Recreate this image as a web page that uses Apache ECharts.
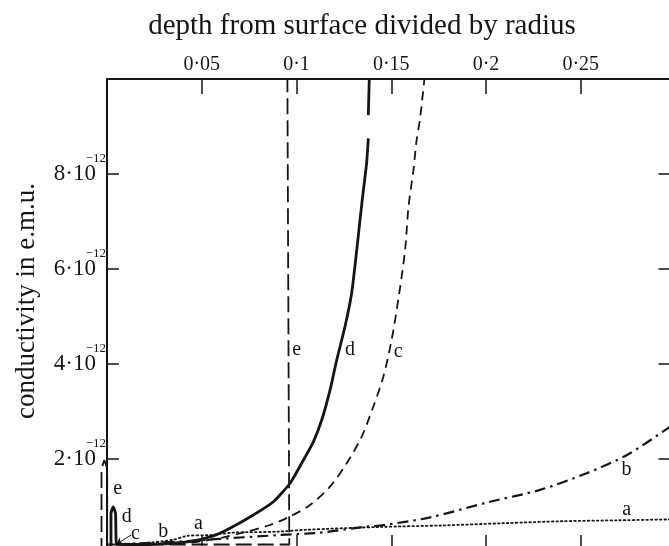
<!DOCTYPE html>
<html>
<head>
<meta charset="utf-8">
<script src="https://cdn.jsdelivr.net/npm/echarts@6/dist/echarts.min.js"></script>
<style>
html,body{margin:0;padding:0;background:#fff;}
#chart{width:669px;height:546px;}
</style>
</head>
<body>
<div id="chart"></div>
<script>
// depth from surface divided by radius (x), conductivity in units of 1e-12 e.m.u. (y)
const xTickValues = [0.05, 0.1, 0.15, 0.2, 0.25, 0.3];
const xTickLabels = ['0·05', '0·1', '0·15', '0·2', '0·25', ''];
const yTickLabels = ['', '2·10', '4·10', '6·10', '8·10', ''];
const yTickSup = ['', '−12', '−12', '−12', '−12', ''];

const curveA = [[0.005,0.2],[0.02,0.23],[0.035,0.3],[0.042,0.38],[0.055,0.40],[0.0665,0.45],[0.09,0.47],[0.105,0.51],[0.144,0.57],[0.176,0.6],[0.21,0.65],[0.24,0.69],[0.27,0.71],[0.3,0.73]];
const curveB = [[0.005,0.2],[0.02,0.23],[0.0375,0.26],[0.06,0.32],[0.0913,0.40],[0.1124,0.45],[0.1353,0.57],[0.1441,0.60],[0.1704,0.77],[0.2021,1.10],[0.2285,1.35],[0.2531,1.70],[0.2742,2.08],[0.2953,2.63],[0.3,2.78]];
const curveC = [[0.005,0.2],[0.02,0.2],[0.04,0.22],[0.05,0.27],[0.0614,0.35],[0.0737,0.47],[0.086,0.61],[0.0966,0.79],[0.1071,1.03],[0.1177,1.42],[0.1265,1.91],[0.1344,2.47],[0.1405,3.10],[0.1458,3.73],[0.1502,4.51],[0.1537,5.35],[0.1573,6.40],[0.1591,7.31],[0.1617,8.08],[0.1634,8.72],[0.1652,9.17],[0.1675,10]];
const curveD = [[0.0021,0],[0.0021,0.85],[0.0033,0.99],[0.0045,0.85],[0.005,0.22],[0.01,0.2],[0.02,0.2],[0.03,0.22],[0.0438,0.26],[0.0561,0.38],[0.0649,0.54],[0.0772,0.82],[0.0878,1.10],[0.0966,1.49],[0.1027,1.91],[0.1089,2.36],[0.1133,2.82],[0.1177,3.45],[0.1212,4.08],[0.1256,4.79],[0.1291,5.49],[0.1318,6.40],[0.1335,7.03],[0.1353,7.66],[0.137,8.23],[0.1379,8.75],null,[0.1379,9.24],[0.1384,10]];
const curveE = [[-0.0029,0],[-0.0029,1.8],[-0.0014,1.98],[0.0001,1.8],[0.0001,0.2],[0.03,0.2],[0.06,0.2],[0.0962,0.2],[0.0952,10]];

const curveLabels = [
  {name:'e', value:[0.1001,4.29]},
  {name:'d', value:[0.1282,4.29]},
  {name:'c', value:[0.1537,4.26]},
  {name:'b', value:[0.2742,1.77]},
  {name:'a', value:[0.2742,0.93]},
  {name:'e', value:[0.0056,1.38]},
  {name:'d', value:[0.0104,0.79]},
  {name:'c', value:[0.0150,0.42]},
  {name:'b', value:[0.0297,0.46]},
  {name:'a', value:[0.0482,0.63]}
];
const arrowC = [[0.0127,0.40],[0.0051,0.21]];
const frameTop = [[0,10],[0.3,10]];

const FONT = '"Liberation Serif", "DejaVu Serif", serif';
const INK = '#151515';
const X_MIN = -0.004, X_MAX = 0.3;
const PX_PER_X = 1895;
const SHIFT = -X_MIN*PX_PER_X; // distance from grid edge to x=0

const chart = echarts.init(document.getElementById('chart'));
const xBase = {
  type:'value', min:X_MIN, max:X_MAX,
  axisLine:{show:false,onZero:false},
  splitLine:{show:false}
};
const yBase = {
  type:'value', min:0, max:10, interval:2,
  splitLine:{show:false}
};
chart.setOption({
  animation:false,
  backgroundColor:'#fff',
  title:{
    text:'depth from surface divided by radius',
    left:357, top:7, textAlign:'center',
    textStyle:{fontFamily:FONT,fontWeight:'normal',fontSize:29,color:INK}
  },
  graphic:[{
    type:'text', x:27, y:301, rotation:Math.PI/2,
    style:{text:'conductivity in e.m.u.', fontFamily:FONT, fontSize:27, fill:INK,
      align:'center', verticalAlign:'middle'}
  }],
  grid:{left:107 - SHIFT, top:79, width:(X_MAX-X_MIN)*PX_PER_X, height:475, outerBoundsMode:'none', containLabel:false},
  xAxis:[
    Object.assign({}, xBase, {
      position:'top',
      axisTick:{inside:true,length:15,customValues:xTickValues,lineStyle:{color:INK,width:1.5}},
      axisLabel:{margin:4,fontFamily:FONT,fontSize:20,color:INK,customValues:xTickValues,
        formatter:v=>{const i=xTickValues.findIndex(t=>Math.abs(t-v)<1e-6); return i>=0 ? xTickLabels[i] : '';}}
    }),
    Object.assign({}, xBase, {
      position:'bottom',
      axisTick:{inside:true,length:19,customValues:xTickValues,lineStyle:{color:INK,width:1.5}},
      axisLabel:{show:false}
    })
  ],
  yAxis:[
    Object.assign({}, yBase, {
      position:'left',
      axisLine:{onZero:true,onZeroAxisIndex:0,lineStyle:{color:INK,width:2}},
      axisTick:{inside:true,length:12,lineStyle:{color:INK,width:1.5}},
      axisLabel:{margin:11 - SHIFT,fontFamily:FONT,fontSize:23,color:INK,
        formatter:v=>yTickLabels[Math.round(v/2)] || ''}
    }),
    Object.assign({}, yBase, {
      position:'right',
      axisLine:{onZero:false,lineStyle:{color:INK,width:2}},
      axisTick:{inside:true,length:17,lineStyle:{color:INK,width:1.5}},
      axisLabel:{show:false}
    }),
    Object.assign({}, yBase, {
      position:'left', offset:0,
      axisLine:{show:true,onZero:true,onZeroAxisIndex:0,lineStyle:{color:INK,width:0,opacity:0}},
      axisTick:{show:false},
      axisLabel:{margin:1 - SHIFT,color:INK,
        formatter:v=>{const s=yTickSup[Math.round(v/2)]; return s ? '{s|'+s+'}' : '';},
        rich:{s:{fontFamily:FONT,fontSize:13,color:INK,padding:[0,0,30,0]}}}
    })
  ],
  series:[
    {type:'line', name:'frame', data:frameTop, showSymbol:false, clip:false, silent:true,
      lineStyle:{color:INK,width:2}},
    {type:'line', name:'a', data:curveA, showSymbol:false, smooth:0.3,
      lineStyle:{color:INK,width:1.8,type:[1.5,3],cap:'round'}},
    {type:'line', name:'b', data:curveB, showSymbol:false, smooth:0.3,
      lineStyle:{color:INK,width:2.2,type:[11,5,2.5,5]}},
    {type:'line', name:'c', data:curveC, showSymbol:false, smooth:0.3,
      lineStyle:{color:INK,width:1.8,type:[9,6]}},
    {type:'line', name:'d', data:curveD, showSymbol:false, smooth:0.2, connectNulls:false,
      lineStyle:{color:INK,width:2.8}},
    {type:'line', name:'e', data:curveE, showSymbol:false,
      lineStyle:{color:INK,width:1.8,type:[16,6]}},
    {type:'scatter', data:curveLabels, symbolSize:0, silent:true,
      itemStyle:{opacity:1,color:INK},
      label:{show:true,position:'inside',formatter:p=>p.name,fontFamily:FONT,fontSize:20,color:INK,opacity:1}},
    {type:'lines', coordinateSystem:'cartesian2d', silent:true,
      symbol:['none','arrow'], symbolSize:6,
      data:[{coords:arrowC}],
      lineStyle:{color:INK,width:1,opacity:1}}
  ]
});
</script>
</body>
</html>
